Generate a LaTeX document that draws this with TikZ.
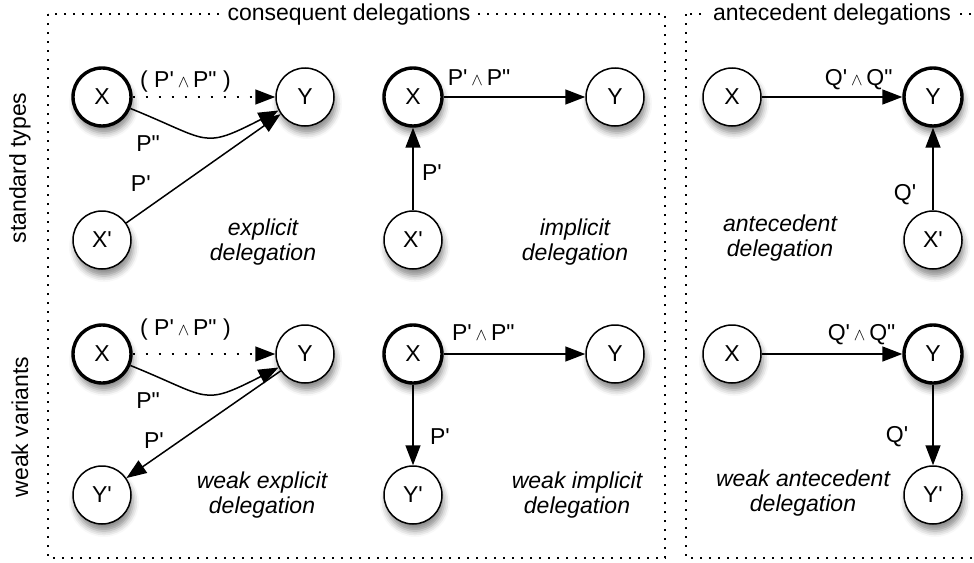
\documentclass[tikz,border=0pt]{standalone}
\usepackage{fontspec}
\setmainfont{Liberation Sans}
\usetikzlibrary{arrows.meta,shadows.blur}
\newcommand\qs{\textquotesingle}
\newcommand\qd{\textquotedbl}
\newcommand\andop{\,{\fontsize{18}{18}\selectfont$\wedge$}\,}
\begin{document}
\begin{tikzpicture}[x=1pt,y=1pt,
  every node/.style={font=\fontsize{23}{26}\selectfont},
  st/.style={circle,draw,fill=white,minimum size=58pt,inner sep=0pt,line width=1.5pt,
    blur shadow={shadow xshift=2pt,shadow yshift=-7pt,shadow blur radius=6pt,shadow opacity=45}},
  thk/.style={st,line width=3.4pt},
  arr/.style={line width=1.5pt,-{Triangle[length=20pt,width=15pt]}},
  dotarr/.style={arr,dash pattern=on 2pt off 11pt},
  lbl/.style={inner sep=1pt},
  captxt/.style={font=\itshape\fontsize{23}{25}\selectfont,align=center},
  frame/.style={line width=1.6pt,dash pattern=on 2.2pt off 6.8pt},
  ttl/.style={fill=white,inner sep=5pt}
]
\useasboundingbox (0,0) rectangle (974,-562);
% frames
\draw[frame] (48,-14) rectangle (665,-558);
\draw[frame] (686,-14) rectangle (1000,-558);
\node[ttl] (t1) at (349,-15) {consequent delegations};
\node[ttl] (t2) at (832,-15) {antecedent delegations};
\node[rotate=90] (r1) at (20,-168) {standard types};
\node[rotate=90] (r2) at (20,-427) {weak variants};

% top row nodes
\node[thk] (X1) at (102,-97) {X};
\node[st] (Y1) at (305,-97) {Y};
\node[st] (X1p) at (102,-240) {X\qs};
\node[thk] (X2) at (413,-97) {X};
\node[st] (Y2) at (615,-97) {Y};
\node[st] (X2p) at (413,-240) {X\qs};
\node[st] (X3) at (732,-97) {X};
\node[thk] (Y3) at (933,-97) {Y};
\node[st] (X3p) at (933,-240) {X\qs};
% bottom row nodes
\node[thk] (X4) at (102,-354) {X};
\node[st] (Y4) at (305,-354) {Y};
\node[st] (Y4p) at (102,-495) {Y\qs};
\node[thk] (X5) at (413,-354) {X};
\node[st] (Y5) at (615,-354) {Y};
\node[st] (Y5p) at (413,-495) {Y\qs};
\node[st] (X6) at (732,-354) {X};
\node[thk] (Y6) at (933,-354) {Y};
\node[st] (Y6p) at (933,-495) {Y\qs};

% explicit
\draw[dotarr] (X1) -- node[lbl,pos=0.37,yshift=15pt] (l1) {( P\qs\andop P\qd\ )} (Y1);
\draw[arr] (X1) to[out=-22,in=207,looseness=1.5] node[lbl,pos=0.08,yshift=-28pt] (l2) {P\qd} (Y1);
\draw[arr] (X1p) -- node[lbl,pos=0.12,xshift=-4pt,yshift=26pt] (l3) {P\qs} (Y1);
% implicit
\draw[arr] (X2) -- node[lbl,pos=0.25,yshift=19pt] (l4) {P\qs\andop P\qd} (Y2);
\draw[arr] (X2p) -- node[lbl,pos=0.5,xshift=19pt,yshift=-4pt] (l5) {P\qs} (X2);
% antecedent
\draw[arr] (X3) -- node[lbl,pos=0.69,yshift=17pt] (l6) {Q\qs\andop Q\qd} (Y3);
\draw[arr] (X3p) -- node[lbl,pos=0.5,xshift=-28pt,yshift=-26pt] (l7) {Q\qs} (Y3);
% weak explicit
\draw[dotarr] (X4) -- node[lbl,pos=0.37,yshift=24pt] (l8) {( P\qs\andop P\qd\ )} (Y4);
\draw[arr] (X4) to[out=-22,in=207,looseness=1.5] node[lbl,pos=0.08,yshift=-28pt] (l9) {P\qd} (Y4);
\draw[arr] (Y4) -- node[lbl,pos=0.86,xshift=6pt,yshift=22pt] (l10) {P\qs} (Y4p);
% weak implicit
\draw[arr] (X5) -- node[lbl,pos=0.28,yshift=21pt] (l11) {P\qs\andop P\qd} (Y5);
\draw[arr] (X5) -- node[lbl,pos=0.65,xshift=27pt] (l12) {P\qs} (Y5p);
% weak antecedent
\draw[arr] (X6) -- node[lbl,pos=0.71,yshift=19pt] (l13) {Q\qs\andop Q\qd} (Y6);
\draw[arr] (Y6) -- node[lbl,pos=0.65,xshift=-36pt] (l14) {Q\qs} (Y6p);

% captions
\node[captxt] (c1) at (263,-242) {explicit\\delegation};
\node[captxt] (c2) at (575,-242) {implicit\\delegation};
\node[captxt] (c3) at (780,-238) {antecedent\\delegation};
\node[captxt] (c4) at (262,-495) {weak explicit\\delegation};
\node[captxt] (c5) at (577,-495) {weak implicit\\delegation};
\node[captxt] (c6) at (803,-493) {weak antecedent\\delegation};
\end{tikzpicture}
\end{document}
